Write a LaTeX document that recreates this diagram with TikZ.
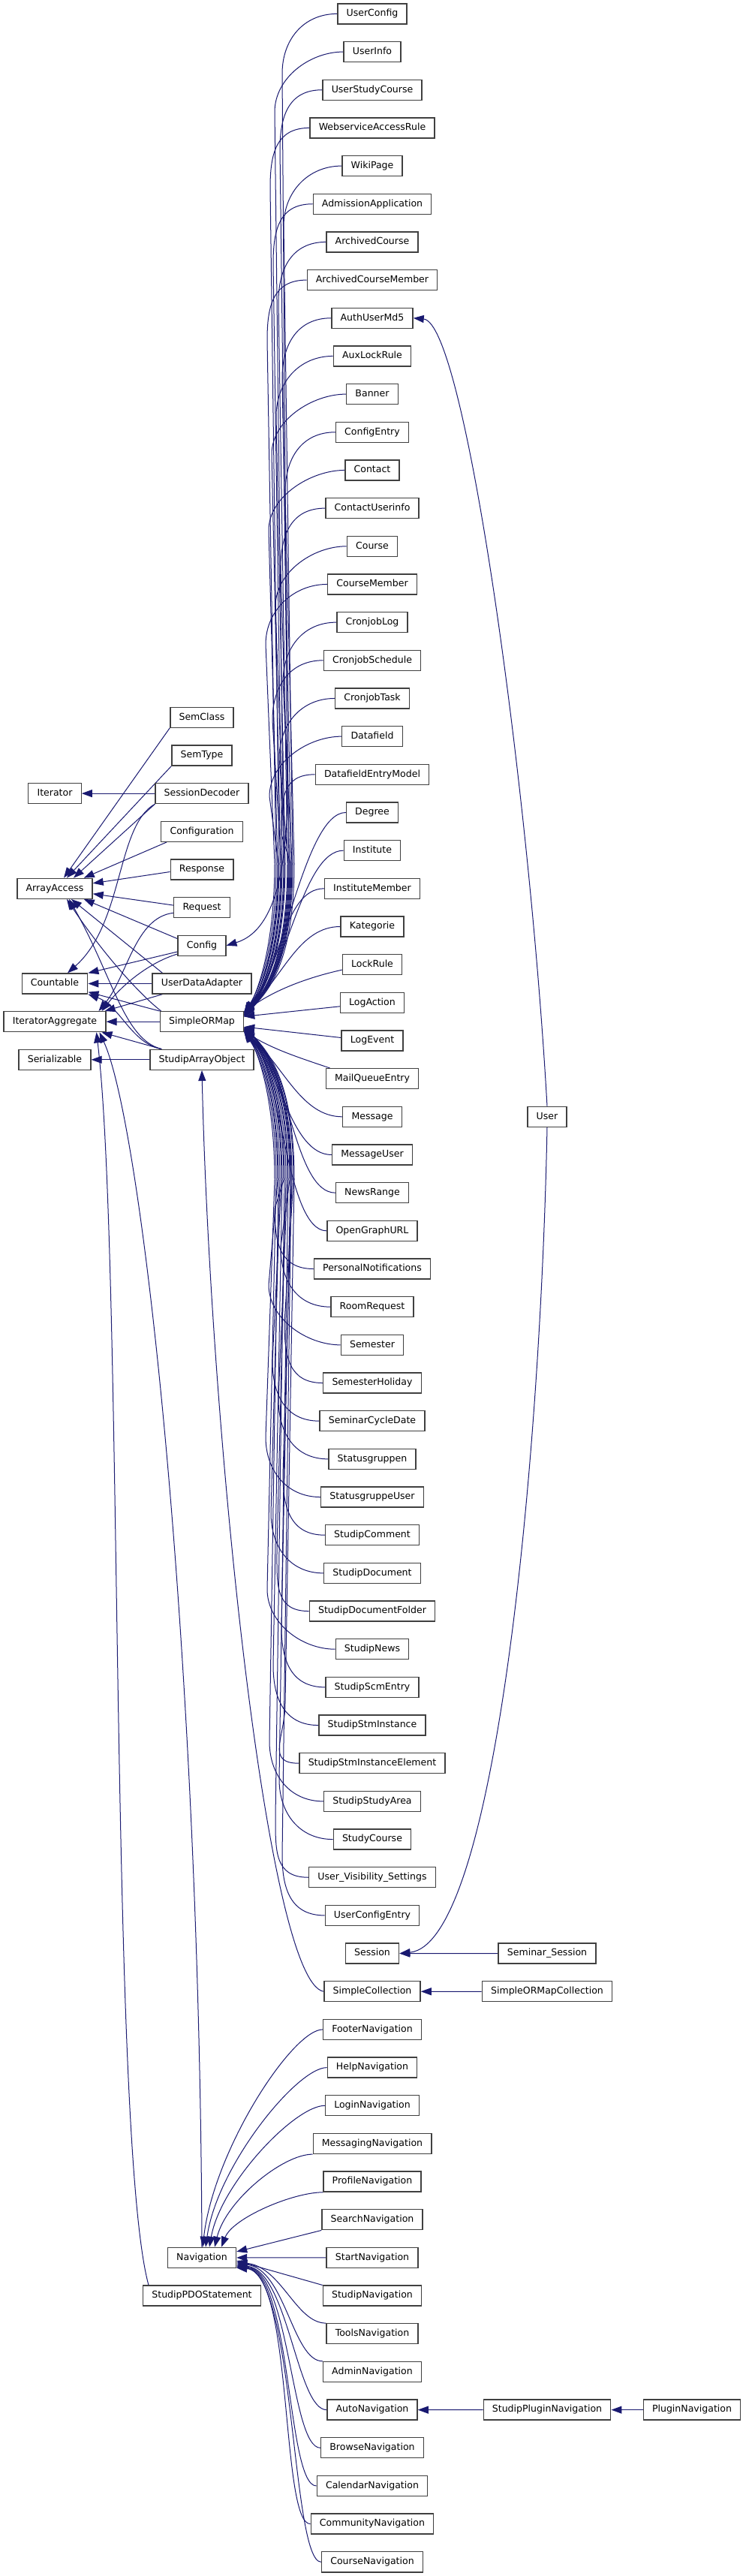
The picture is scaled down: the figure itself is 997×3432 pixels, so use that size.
\documentclass[tikz,border=0pt]{standalone}
\usepackage{fontspec}
\setmainfont{DejaVu Sans}
\usetikzlibrary{arrows.meta,calc,backgrounds}
\definecolor{edgecol}{HTML}{191970}
\definecolor{boxcol}{HTML}{404040}
% upper far child of SimpleORMap: name, row, bundle x, tip angle
\newcommand\ormUp[4]{\pgfmathsetmacro\yc{18.4+50.67*#2}%
  \draw[inh] (#1.west) .. controls ($(#1.west)+(-45,0)$) and (#3-12,\yc+35) .. (#3-12,\yc+80) -- (#3,1150) .. controls (#3,1235) and (#3-14,1305) .. (SimpleORMap.#4);}
\newcommand\ormDn[4]{\pgfmathsetmacro\yc{18.4+50.67*#2}%
  \draw[inh] (#1.west) .. controls ($(#1.west)+(-45,0)$) and (#3-12,\yc-35) .. (#3-12,\yc-80) -- (#3,1572) .. controls (#3,1487) and (#3-14,1417) .. (SimpleORMap.#4);}
\newcommand\ormNear[4]{%
  \draw[inh] (#1.west) .. controls ($(#1.west)+(-55,0)$) and (#2,#4) .. (SimpleORMap.#3);}
\newcommand\navUp[3]{\pgfmathsetmacro\yc{18.4+50.67*#2}\pgfmathsetmacro\cy{2994.4-0.45*(2994.4-\yc)}\pgfmathsetmacro\cx{284+#3}%
  \draw[inh] (#1) .. controls ($(#1)+(-40,0)$) and (\cx,\cy) .. ($(Navigation.north)+(#3,0)$);}
% lower child of Navigation: start, tip offset on east side, x of second control
\newcommand\navDn[3]{\pgfmathsetmacro\cy{3007.9+#2+6}%
  \draw[inh] (#1) .. controls ($(#1)+(-40,0)$) and (#3,\cy) .. ($(Navigation.east)+(0,#2)$);}
\begin{document}
\begin{tikzpicture}[x=0.75pt,y=-0.75pt,
  cls/.style={draw=boxcol, line width=1pt, fill=white, font=\fontsize{9.4}{11}\selectfont,
    inner xsep=8.8pt, inner ysep=0pt, minimum height=20.25pt, text height=7pt, text depth=2pt},
  inh/.style={draw=edgecol, line width=0.75pt, -{Triangle[length=10.5pt,width=7.5pt]}}]
\useasboundingbox (0,0) rectangle (997,3432);

% right column
\foreach \nm/\tx [count=\i from 0] in {UserConfig/UserConfig, UserInfo/UserInfo, UserStudyCourse/UserStudyCourse,
  WebserviceAccessRule/WebserviceAccessRule, WikiPage/WikiPage, AdmissionApplication/AdmissionApplication,
  ArchivedCourse/ArchivedCourse, ArchivedCourseMember/ArchivedCourseMember, AuthUserMd5/AuthUserMd5,
  AuxLockRule/AuxLockRule, Banner/Banner, ConfigEntry/ConfigEntry, Contact/Contact, ContactUserinfo/ContactUserinfo,
  Course/Course, CourseMember/CourseMember, CronjobLog/CronjobLog, CronjobSchedule/CronjobSchedule,
  CronjobTask/CronjobTask, Datafield/Datafield, DatafieldEntryModel/DatafieldEntryModel, Degree/Degree,
  Institute/Institute, InstituteMember/InstituteMember, Kategorie/Kategorie, LockRule/LockRule,
  LogAction/LogAction, LogEvent/LogEvent, MailQueueEntry/MailQueueEntry, Message/Message,
  MessageUser/MessageUser, NewsRange/NewsRange, OpenGraphURL/OpenGraphURL,
  PersonalNotifications/PersonalNotifications, RoomRequest/RoomRequest, Semester/Semester,
  SemesterHoliday/SemesterHoliday, SeminarCycleDate/SeminarCycleDate, Statusgruppen/Statusgruppen,
  StatusgruppeUser/StatusgruppeUser, StudipComment/StudipComment, StudipDocument/StudipDocument,
  StudipDocumentFolder/StudipDocumentFolder, StudipNews/StudipNews, StudipScmEntry/StudipScmEntry,
  StudipStmInstance/StudipStmInstance, StudipStmInstanceElement/StudipStmInstanceElement,
  StudipStudyArea/StudipStudyArea, StudyCourse/StudyCourse, UVS/User\_Visibility\_Settings,
  UserConfigEntry/UserConfigEntry, Session/Session, SimpleCollection/SimpleCollection,
  FooterNavigation/FooterNavigation, HelpNavigation/HelpNavigation, LoginNavigation/LoginNavigation,
  MessagingNavigation/MessagingNavigation, ProfileNavigation/ProfileNavigation,
  SearchNavigation/SearchNavigation, StartNavigation/StartNavigation, StudipNavigation/StudipNavigation,
  ToolsNavigation/ToolsNavigation, AdminNavigation/AdminNavigation, AutoNavigation/AutoNavigation,
  BrowseNavigation/BrowseNavigation, CalendarNavigation/CalendarNavigation,
  CommunityNavigation/CommunityNavigation, CourseNavigation/CourseNavigation}
  \node[cls] (\nm) at (496,{18.4+50.67*\i}) {\tx};

% left part
\node[cls] (SemClass) at (269,955.8) {SemClass};
\node[cls] (SemType) at (269,1006.5) {SemType};
\node[cls] (Iterator) at (73,1057.1) {Iterator};
\node[cls] (SessionDecoder) at (269,1057.1) {SessionDecoder};
\node[cls] (Configuration) at (269,1107.8) {Configuration};
\node[cls] (Response) at (269,1158.5) {Response};
\node[cls] (ArrayAccess) at (73,1183.8) {ArrayAccess};
\node[cls] (Request) at (269,1209.1) {Request};
\node[cls] (Config) at (269,1259.8) {Config};
\node[cls] (Countable) at (73,1310.5) {Countable};
\node[cls] (UserDataAdapter) at (269,1310.5) {UserDataAdapter};
\node[cls] (IteratorAggregate) at (73,1361.2) {IteratorAggregate};
\node[cls] (SimpleORMap) at (269,1361.2) {SimpleORMap};
\node[cls] (Serializable) at (73,1411.8) {Serializable};
\node[cls] (StudipArrayObject) at (269,1411.8) {StudipArrayObject};
\node[cls] (Navigation) at (269,3007.9) {Navigation};
\node[cls] (StudipPDOStatement) at (269,3058.6) {StudipPDOStatement};
% third and fourth rank
\node[cls] (User) at (729,1487.8) {User};
\node[cls] (SeminarSession) at (729,2602.6) {Seminar\_Session};
\node[cls] (SimpleORMapCollection) at (729,2653.3) {SimpleORMapCollection};
\node[cls] (StudipPluginNavigation) at (729,3210.6) {StudipPluginNavigation};
\node[cls] (PluginNavigation) at (922,3210.6) {PluginNavigation};

\begin{scope}[on background layer]
\fill[white] (0,0) rectangle (997,3432);
% ---- edges of the left part
\draw[inh] (SessionDecoder.west) -- (Iterator.east);
\draw[inh] (SemClass.south west) -- ($(ArrayAccess.north)+(12,0)$);
\draw[inh] (SemType.south west) -- ($(ArrayAccess.north)+(16,0)$);
\draw[inh] (SessionDecoder.south west) -- ($(ArrayAccess.north)+(25,0)$);
\draw[inh] ($(Configuration.south west)+(8,0)$) -- ($(ArrayAccess.north east)+(-12,0)$);
\draw[inh] ($(Response.west)+(0,3)$) -- ($(ArrayAccess.east)+(0,-7)$);
\draw[inh] ($(Request.west)+(0,-3)$) -- ($(ArrayAccess.east)+(0,7)$);
\draw[inh] ($(Config.north west)+(0,5)$) -- ($(ArrayAccess.south east)+(-12,0)$);
\draw[inh] ($(UserDataAdapter.north west)+(14,0)$) -- ($(ArrayAccess.south)+(22,0)$);
\draw[inh] ($(SimpleORMap.north west)+(2,0)$) .. controls (180,1320) and (130,1260) .. ($(ArrayAccess.south)+(16,0)$);
\draw[inh] ($(StudipArrayObject.north west)+(16,0)$) .. controls (165,1385) and (150,1300) .. ($(ArrayAccess.south)+(19,0)$);
\draw[inh] (SessionDecoder.south west) .. controls (155,1100) and (165,1230) .. ($(Countable.north)+(17,0)$);
\draw[inh] ($(Config.south west)+(0,-6)$) -- (Countable.north east);
\draw[inh] (UserDataAdapter.west) -- (Countable.east);
\draw[inh] (SimpleORMap.north west) -- ($(Countable.south east)+(0,-3)$);
\draw[inh] ($(StudipArrayObject.north west)+(16,0)$) .. controls (175,1390) and (160,1340) .. (Countable.south east);
\draw[inh] ($(Request.south west)+(0,-7)$) .. controls (180,1222) and (170,1300) .. ($(IteratorAggregate.north east)+(-10,0)$);
\draw[inh] ($(Config.south west)+(0,-3)$) .. controls (200,1282) and (165,1310) .. ($(IteratorAggregate.north east)+(-6,0)$);
\draw[inh] ($(UserDataAdapter.south west)+(14,0)$) -- ($(IteratorAggregate.north east)+(-2,0)$);
\draw[inh] (SimpleORMap.west) -- (IteratorAggregate.east);
\draw[inh] ($(StudipArrayObject.north west)+(16,0)$) -- ($(IteratorAggregate.south east)+(-6,0)$);
\draw[inh] (StudipArrayObject.west) -- (Serializable.east);
\draw[inh] (Navigation.north) .. controls (266,2200) and (190,1500) .. ($(IteratorAggregate.south east)+(-9,0)$);
\draw[inh] ($(StudipPDOStatement.north west)+(8,0)$) .. controls (145,2850) and (165,1680) .. ($(IteratorAggregate.south east)+(-13,0)$);
\draw[inh] (SimpleCollection.west) .. controls (355,2640) and (280,1900) .. (StudipArrayObject.south);
\draw[inh] (UserConfig.west) .. controls ($(UserConfig.west)+(-45,0)$) and (376,53) .. (376,98) -- (383,1050) .. controls (383,1200) and (350,1245) .. (Config.east);

% ---- children of SimpleORMap, above
\ormUp{UserInfo}{1}{378}{14}
\ormUp{UserStudyCourse}{2}{385}{13}
\ormUp{WebserviceAccessRule}{3}{372}{12}
\ormUp{WikiPage}{4}{390}{11}
\ormUp{AdmissionApplication}{5}{376}{13}
\ormUp{ArchivedCourse}{6}{383}{10}
\ormUp{ArchivedCourseMember}{7}{368}{12}
\ormUp{AuthUserMd5}{8}{388}{9}
\ormUp{AuxLockRule}{9}{380}{11}
\ormUp{Banner}{10}{374}{8}
\ormUp{ConfigEntry}{11}{392}{10}
\ormUp{Contact}{12}{370}{7}
\ormUp{ContactUserinfo}{13}{386}{9}
\ormUp{Course}{14}{379}{12}
\ormUp{CourseMember}{15}{366}{8}
\ormUp{CronjobLog}{16}{389}{11}
\ormUp{CronjobSchedule}{17}{375}{6}
\ormUp{CronjobTask}{18}{384}{10}
\ormUp{Datafield}{19}{371}{9}
\ormUp{DatafieldEntryModel}{20}{387}{7}
\ormNear{Degree}{376}{13}{1300}
\ormNear{Institute}{382}{11}{1300}
\ormNear{InstituteMember}{372}{9}{1300}
\ormNear{Kategorie}{378}{12}{1300}
\draw[inh] ($(LockRule.west)+(0,7)$) .. controls (420,1300) and (372,1315) .. (SimpleORMap.13);
\draw[inh] ($(LogAction.west)+(0,5)$) -- (SimpleORMap.7);
\draw[inh] ($(LogEvent.west)+(0,-4)$) -- (SimpleORMap.353);
\draw[inh] ($(MailQueueEntry.north west)+(6,0)$) .. controls (395,1408) and (365,1398) .. (SimpleORMap.347);
% ---- children of SimpleORMap, below
\ormNear{Message}{378}{347}{1420}
\ormNear{MessageUser}{372}{349}{1420}
\ormNear{NewsRange}{385}{351}{1420}
\ormNear{OpenGraphURL}{375}{346}{1420}
\ormDn{PersonalNotifications}{33}{378}{346}
\ormDn{RoomRequest}{34}{386}{348}
\ormDn{Semester}{35}{370}{350}
\ormDn{SemesterHoliday}{36}{391}{347}
\ormDn{SeminarCycleDate}{37}{375}{352}
\ormDn{Statusgruppen}{38}{383}{349}
\ormDn{StatusgruppeUser}{39}{366}{351}
\ormDn{StudipComment}{40}{389}{353}
\ormDn{StudipDocument}{41}{373}{348}
\ormDn{StudipDocumentFolder}{42}{381}{350}
\ormDn{StudipNews}{43}{368}{346}
\ormDn{StudipScmEntry}{44}{387}{352}
\ormDn{StudipStmInstance}{45}{376}{349}
\ormDn{StudipStmInstanceElement}{46}{392}{351}
\ormDn{StudipStudyArea}{47}{371}{347}
\ormDn{StudyCourse}{48}{384}{353}
\ormDn{UVS}{49}{379}{350}
\ormDn{UserConfigEntry}{50}{388}{348}

% ---- User, Session, collections
\draw[inh] (User.north) .. controls (705,1050) and (620,430) .. (AuthUserMd5.east);
\draw[inh] (User.south) .. controls (720,1950) and (660,2590) .. (Session.east);
\draw[inh] (SeminarSession.west) -- (Session.east);
\draw[inh] (SimpleORMapCollection.west) -- (SimpleCollection.east);

% ---- Navigation children
\navUp{FooterNavigation.west}{53}{1}
\navUp{HelpNavigation.west}{54}{5}
\navUp{LoginNavigation.west}{55}{10}
\navUp{MessagingNavigation.south west}{56}{17}
\navUp{ProfileNavigation.south west}{57}{26}
\draw[inh] (SearchNavigation.south west) -- ($(Navigation.east)+(0,-8)$);
\draw[inh] (StartNavigation.west) -- (Navigation.east);
\draw[inh] (StudipNavigation.north west) -- ($(Navigation.east)+(0,4)$);
\navDn{ToolsNavigation.north west}{6}{375}
\navDn{AdminNavigation.north west}{8}{380}
\navDn{AutoNavigation.west}{10}{384}
\navDn{BrowseNavigation.west}{11}{387}
\navDn{CalendarNavigation.west}{12}{389}
\navDn{CommunityNavigation.west}{13}{391}
\navDn{CourseNavigation.west}{13.5}{393}
\draw[inh] (StudipPluginNavigation.west) -- (AutoNavigation.east);
\draw[inh] (PluginNavigation.west) -- (StudipPluginNavigation.east);
\end{scope}
\end{tikzpicture}
\end{document}
